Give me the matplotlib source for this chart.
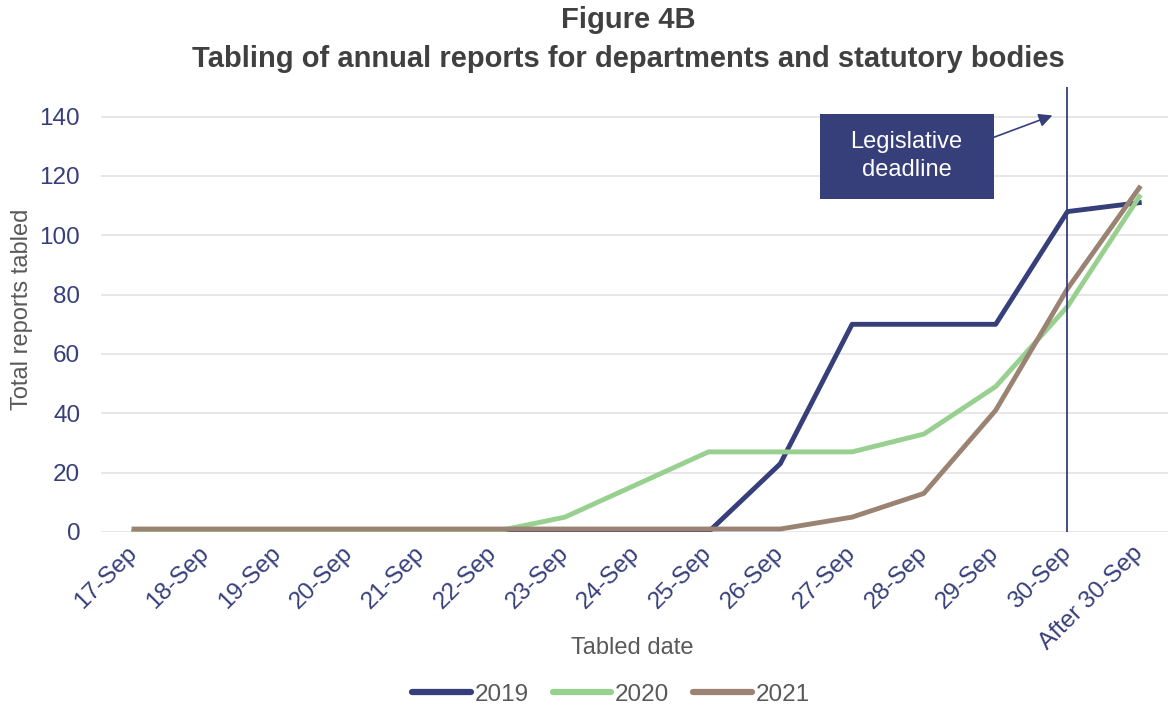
import numpy as np
import matplotlib
matplotlib.use("Agg")
import matplotlib.pyplot as plt
from matplotlib.patches import Rectangle

plt.rcParams['font.family'] = ['Liberation Sans', 'DejaVu Sans']

# Data
dates = ['17-Sep', '18-Sep', '19-Sep', '20-Sep', '21-Sep', '22-Sep', '23-Sep',
         '24-Sep', '25-Sep', '26-Sep', '27-Sep', '28-Sep', '29-Sep', '30-Sep',
         'After 30-Sep']
y2019 = [0, 0, 0, 0, 0, 0, 0, 0, 0, 23, 70, 70, 70, 108, 111]
y2020 = [0, 0, 0, 0, 0, 0, 5, 16, 27, 27, 27, 33, 49, 76, 113]
y2021 = [1, 1, 1, 1, 1, 1, 1, 1, 1, 1, 5, 13, 41, 82, 116]
deadline = '30-Sep'

navy = '#363F7A'
green = '#98D08F'
brown = '#9B8373'
grey = '#595959'

fig = plt.figure(figsize=(11.68, 7.06), dpi=100)
ax = fig.add_axes([0.0865, 0.2465, 0.9135, 0.6303])

x = np.arange(len(dates))
ax.plot(x, y2019, color=navy, lw=3.5, label='2019', zorder=3)
ax.plot(x, y2020, color=green, lw=3.5, label='2020', zorder=3)
ax.plot(x, y2021, color=brown, lw=3.5, label='2021', zorder=4)

# deadline marker
xd = dates.index(deadline)
ax.axvline(xd, color=navy, lw=1.3, zorder=5)

ax.set_xlim(-0.46, 14.4)
ax.set_ylim(0, 150)
ax.set_yticks(np.arange(0, 141, 20))
ax.set_xticks(x)
ax.set_xticklabels(dates, rotation=45, ha='right', va='center',
                   rotation_mode='anchor')
ax.tick_params(axis='both', colors=navy, labelsize=17.5, length=0)
ax.tick_params(axis='x', pad=13)
ax.tick_params(axis='y', pad=15)
ax.grid(axis='y', color='#E3E3E3', lw=1.2)
ax.set_axisbelow(True)
for s in ax.spines.values():
    s.set_visible(False)

fig.text(22 / 1168, 0.5 * (0.2465 + 0.8768), 'Total reports tabled', color=grey,
         fontsize=17, rotation=90, ha='center', va='center')
fig.text(632 / 1168, 1 - 648 / 706, 'Tabled date', color=grey, fontsize=17,
         ha='center', va='center')

# callout box
ax.add_patch(Rectangle((9.556, 112.4), 2.414, 28.6, fc=navy, ec='none', zorder=6))
ax.text(10.76, 126.7, 'Legislative\ndeadline', ha='center', va='center',
        color='white', fontsize=17, linespacing=1.35, zorder=7)
ax.annotate('', xy=(12.79, 140.4), xytext=(11.97, 133.0),
            arrowprops=dict(arrowstyle='-|>', color=navy, lw=1.2,
                            mutation_scale=20, shrinkA=0, shrinkB=0))

fig.suptitle('Figure 4B\nTabling of annual reports for departments and statutory bodies',
             x=0.538, y=0.992, fontsize=21, fontweight='bold', color='#404040',
             linespacing=1.5)

fig.legend(loc='center', ncol=3, frameon=False, fontsize=17.5,
           bbox_to_anchor=(0.523, 0.016), handlelength=2.4, columnspacing=1.0,
           handletextpad=0.15, labelcolor=grey)
for h in fig.legends[0].get_lines():
    h.set_linewidth(4.5)
    h.set_solid_capstyle('round')

fig.savefig('out.png', dpi=100)
